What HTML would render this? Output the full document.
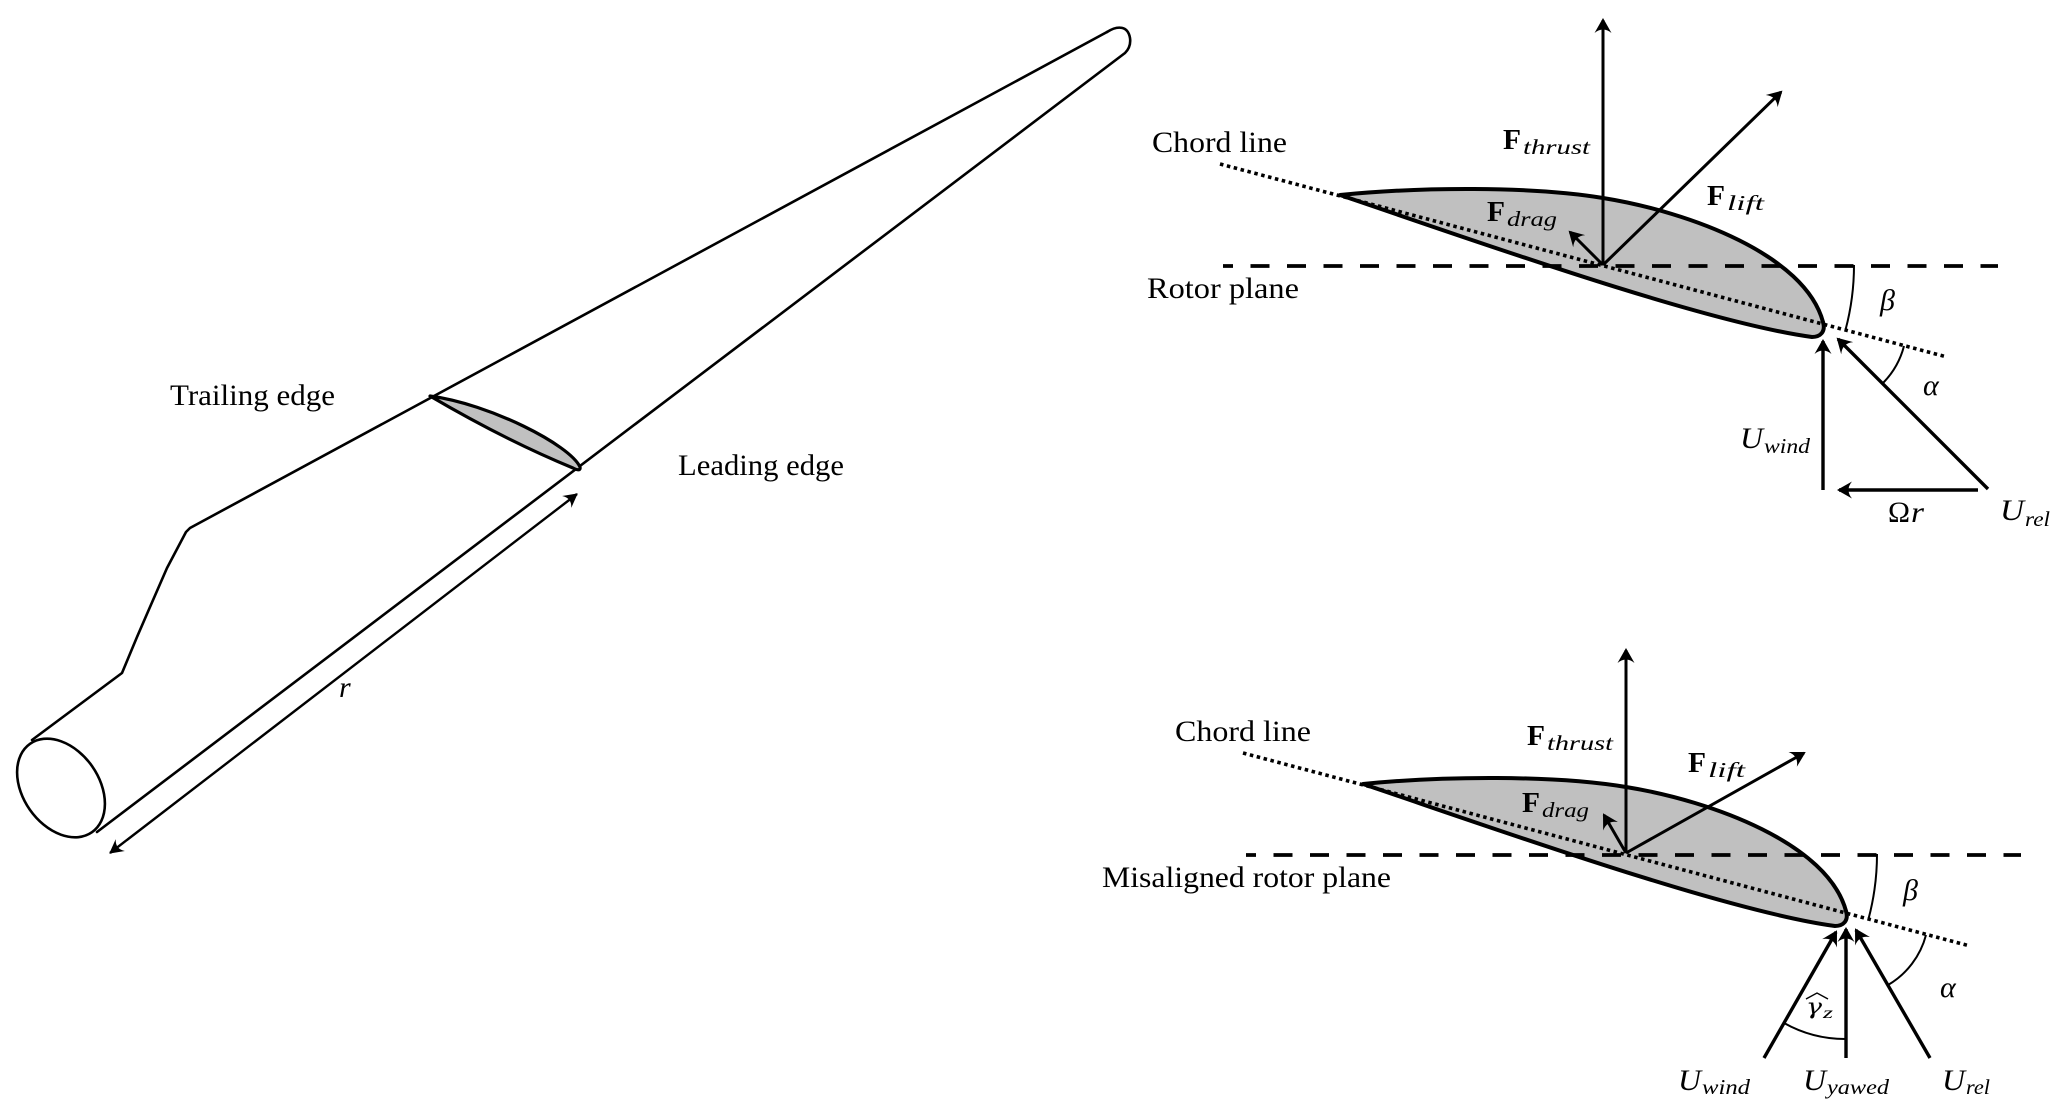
<!DOCTYPE html>
<html>
<head>
<meta charset="utf-8">
<style>
  html, body { margin:0; padding:0; background:#fff; }
  body { width:2067px; height:1116px; overflow:hidden; }
  svg { display:block; }
  text { font-family: "Liberation Serif", "DejaVu Serif", serif; fill:#000; }
  .lbl { font-size:30px; }
  .it { font-style:italic; }
  .bf { font-weight:bold; font-size:29px; }
  .sub { font-style:italic; font-size:21px; }
</style>
</head>
<body>
<svg width="2067" height="1116" viewBox="0 0 2067 1116" xmlns="http://www.w3.org/2000/svg">
  <defs>
    <marker id="ah" markerUnits="userSpaceOnUse" viewBox="-16 -10 20 20" markerWidth="20" markerHeight="20" refX="-2" refY="0" orient="auto-start-reverse">
      <path d="M0,0 L-15,-8.5 Q-8,0 -15,8.5 Z" fill="#000"/>
    </marker>
    <marker id="ahs" markerUnits="userSpaceOnUse" viewBox="-16 -10 20 20" markerWidth="20" markerHeight="20" refX="-1" refY="0" orient="auto-start-reverse">
      <path d="M0,0 L-14,-7.5 Q-7.5,0 -14,7.5 Z" fill="#000"/>
    </marker>
  </defs>

  <!-- ================= LEFT: BLADE ================= -->
  <g fill="none" stroke="#000" stroke-width="2.6" stroke-linejoin="round" stroke-linecap="round">
    <path d="M1107,32 C1118,25 1128,26 1130,38 C1131,45 1128,50 1125,53 L97,832"/>
    <path d="M1107,32 L190,528 L186,532 L167,568 L150,607 L137,637 L122,673 L32,740"/>
    <ellipse cx="61" cy="788" rx="54" ry="38" transform="rotate(55 61 788)"/>
  </g>
  <path d="M430,396 C490,404 570,445 580,467 Q581,472 573,468 Q505,440 430,396 Z" fill="#c0c0c0" stroke="#000" stroke-width="3.2" stroke-linejoin="round"/>
  <line x1="110" y1="853" x2="577" y2="494" stroke="#000" stroke-width="2.4" marker-start="url(#ahs)" marker-end="url(#ahs)"/>
  <text class="lbl it" x="339" y="697">r</text>
  <text class="lbl" x="170" y="405" textLength="165" lengthAdjust="spacingAndGlyphs">Trailing edge</text>
  <text class="lbl" x="678" y="475" textLength="166" lengthAdjust="spacingAndGlyphs">Leading edge</text>

  <!-- ================= TOP RIGHT ================= -->
  <g id="foil">
    <path d="M1340,195 C1420,187 1530,186 1603,198 C1690,212 1805,255 1823,322 C1826,332 1820,337 1812,337 C1700,322 1450,232 1340,195 Z" fill="#c0c0c0" stroke="#000" stroke-width="4" stroke-linejoin="round"/>
    <line x1="1220" y1="164" x2="1947" y2="357" stroke="#000" stroke-width="3.6" stroke-dasharray="3.5 3.6"/>
    <line x1="1223" y1="266" x2="1998" y2="266" stroke="#000" stroke-width="3.8" stroke-dasharray="19 17.5" stroke-dashoffset="9"/>
    <path d="M1854,265 A251,251 0 0,1 1845.6,329.5" fill="none" stroke="#000" stroke-width="2"/>
  </g>

  <g stroke="#000" stroke-width="3" fill="none">
    <line x1="1603" y1="265" x2="1603" y2="20" marker-end="url(#ah)"/>
    <line x1="1603" y1="265" x2="1781" y2="92" marker-end="url(#ah)"/>
    <line x1="1603" y1="265" x2="1570" y2="232" marker-end="url(#ah)"/>
  </g>
  <g stroke="#000" stroke-width="3.4" fill="none">
    <line x1="1823" y1="490" x2="1823" y2="341" marker-end="url(#ah)"/>
    <line x1="1988" y1="489" x2="1838" y2="339" marker-end="url(#ah)"/>
    <line x1="1978" y1="490" x2="1839" y2="490" marker-end="url(#ah)"/>
  </g>
  <path d="M1904,346 A82,82 0 0,1 1883,383" fill="none" stroke="#000" stroke-width="2"/>

  <text class="lbl" x="1152" y="152" textLength="135" lengthAdjust="spacingAndGlyphs">Chord line</text>
  <text class="lbl" x="1147" y="298" textLength="152" lengthAdjust="spacingAndGlyphs">Rotor plane</text>
  <text class="bf" x="1503" y="149" textLength="18" lengthAdjust="spacingAndGlyphs">F</text>
  <text class="sub" x="1523" y="154" textLength="67" lengthAdjust="spacingAndGlyphs">thrust</text>
  <text class="bf" x="1707" y="205" textLength="18" lengthAdjust="spacingAndGlyphs">F</text>
  <text class="sub" x="1727" y="210" textLength="37" lengthAdjust="spacingAndGlyphs">lift</text>
  <text class="bf" x="1487" y="221" textLength="18" lengthAdjust="spacingAndGlyphs">F</text>
  <text class="sub" x="1507" y="226" textLength="50" lengthAdjust="spacingAndGlyphs">drag</text>
  <text class="lbl it" x="1880" y="310">β</text>
  <text class="lbl it" x="1923" y="395">α</text>
  <text class="lbl it" x="1740" y="448" font-size="31" textLength="23" lengthAdjust="spacingAndGlyphs">U</text>
  <text class="sub" x="1764" y="453" textLength="46" lengthAdjust="spacingAndGlyphs">wind</text>
  <text class="lbl" x="1888" y="522" textLength="22" lengthAdjust="spacingAndGlyphs">Ω</text>
  <text class="lbl it" x="1911" y="522" textLength="13" lengthAdjust="spacingAndGlyphs">r</text>
  <text class="lbl it" x="2000" y="520" font-size="31" textLength="24" lengthAdjust="spacingAndGlyphs">U</text>
  <text class="sub" x="2025" y="526" textLength="25" lengthAdjust="spacingAndGlyphs">rel</text>

  <!-- ================= BOTTOM RIGHT ================= -->
  <use href="#foil" transform="translate(23,589)"/>

  <g stroke="#000" stroke-width="3" fill="none">
    <line x1="1626" y1="853" x2="1626" y2="650" marker-end="url(#ah)"/>
    <line x1="1626" y1="853" x2="1804" y2="753" marker-end="url(#ah)"/>
    <line x1="1626" y1="853" x2="1604" y2="815" marker-end="url(#ah)"/>
  </g>
  <g stroke="#000" stroke-width="3.4" fill="none">
    <line x1="1764" y1="1058" x2="1836" y2="932" marker-end="url(#ah)"/>
    <line x1="1846" y1="1058" x2="1846" y2="929" marker-end="url(#ah)"/>
    <line x1="1930" y1="1058" x2="1856" y2="930" marker-end="url(#ah)"/>
  </g>
  <path d="M1926,935 A82,82 0 0,1 1888,985" fill="none" stroke="#000" stroke-width="2"/>
  <path d="M1784,1023 A125,125 0 0,0 1846,1039" fill="none" stroke="#000" stroke-width="2"/>

  <text class="lbl" x="1175" y="741" textLength="136" lengthAdjust="spacingAndGlyphs">Chord line</text>
  <text class="lbl" x="1102" y="887" textLength="289" lengthAdjust="spacingAndGlyphs">Misaligned rotor plane</text>
  <text class="bf" x="1527" y="745" textLength="18" lengthAdjust="spacingAndGlyphs">F</text>
  <text class="sub" x="1547" y="750" textLength="66" lengthAdjust="spacingAndGlyphs">thrust</text>
  <text class="bf" x="1688" y="772" textLength="18" lengthAdjust="spacingAndGlyphs">F</text>
  <text class="sub" x="1708" y="777" textLength="37" lengthAdjust="spacingAndGlyphs">lift</text>
  <text class="bf" x="1522" y="812" textLength="18" lengthAdjust="spacingAndGlyphs">F</text>
  <text class="sub" x="1542" y="817" textLength="47" lengthAdjust="spacingAndGlyphs">drag</text>
  <text class="lbl it" x="1903" y="900">β</text>
  <text class="lbl it" x="1940" y="997">α</text>
  <path d="M1806,999 L1817,993 L1828,999" fill="none" stroke="#000" stroke-width="1.4"/>
  <text x="1806" y="1014" font-size="22" font-style="italic" style="font-family:'DejaVu Serif', serif" textLength="16" lengthAdjust="spacingAndGlyphs">γ</text>
  <text class="it" x="1823" y="1018" font-size="16" textLength="10" lengthAdjust="spacingAndGlyphs">z</text>

  <text class="lbl it" x="1678" y="1090" font-size="31" textLength="23" lengthAdjust="spacingAndGlyphs">U</text>
  <text class="sub" x="1702" y="1094" textLength="48" lengthAdjust="spacingAndGlyphs">wind</text>
  <text class="lbl it" x="1803" y="1090" font-size="31" textLength="23" lengthAdjust="spacingAndGlyphs">U</text>
  <text class="sub" x="1827" y="1094" textLength="62" lengthAdjust="spacingAndGlyphs">yawed</text>
  <text class="lbl it" x="1942" y="1090" font-size="31" textLength="23" lengthAdjust="spacingAndGlyphs">U</text>
  <text class="sub" x="1966" y="1094" textLength="24" lengthAdjust="spacingAndGlyphs">rel</text>
</svg>
</body>
</html>
